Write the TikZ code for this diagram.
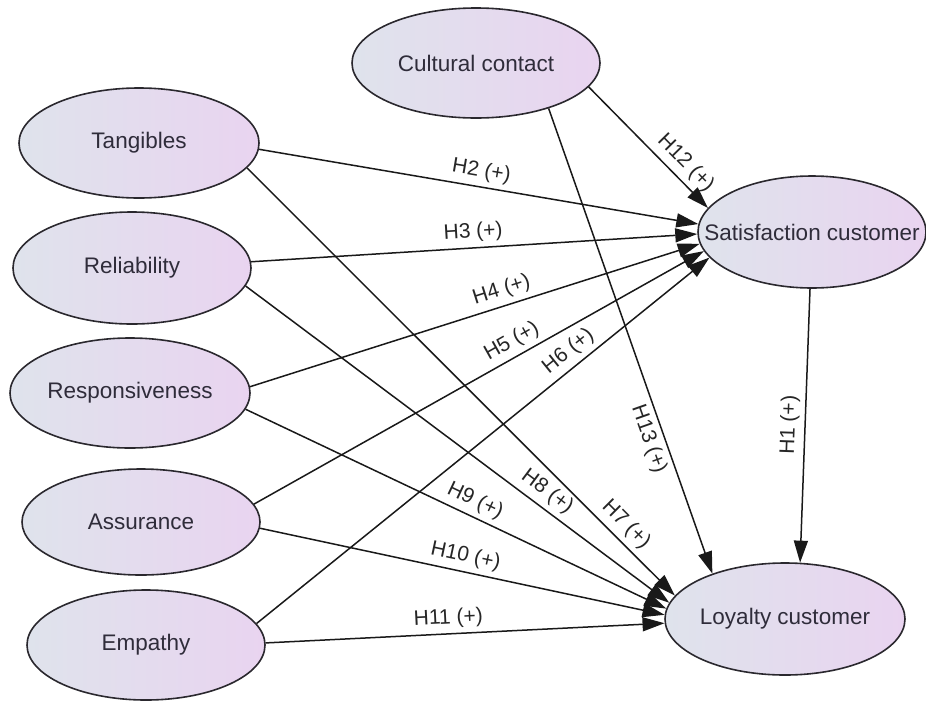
\documentclass[tikz,border=0pt]{standalone}
\usepackage{fontspec}
\setmainfont{Liberation Sans}
\usetikzlibrary{shapes.geometric,arrows.meta,positioning}

\definecolor{cstleft}{HTML}{DFE3EC}
\definecolor{cstright}{HTML}{E9D4F0}
\definecolor{cstline}{HTML}{2A282E}
\definecolor{csttext}{HTML}{2F2C3A}

\begin{document}
\begin{tikzpicture}[x=1pt, y=-1pt,
    construct/.style={ellipse, draw=cstline, line width=1.6pt, left color=cstleft, right color=cstright,
        inner sep=0pt, minimum width=240pt, minimum height=110pt},
    caption/.style={font=\fontsize{22.5}{26}\selectfont, text=csttext},
    effect/.style={-{Triangle[length=22pt,width=14pt]}, line width=1.5pt, draw=black!90},
    hyp/.style={sloped, font=\fontsize{21}{25}\selectfont, text=black!85, inner sep=5pt}]
    \useasboundingbox (0,0) rectangle (926,702);

    % constructs
    \node (cult) [construct, minimum width=248pt, label={[caption]center:Cultural contact}] at (476,63) {};
    \node (tang) [construct, label={[caption]center:Tangibles}] at (139,143) {};
    \node (reli) [construct, minimum width=238pt, minimum height=112pt, label={[caption]center:Reliability}] at (132,268) {};
    \node (resp) [construct, label={[caption]center:Responsiveness}] at (130,393) {};
    \node (assu) [construct, minimum width=238pt, minimum height=106pt, label={[caption]center:Assurance}] at (141,522) {};
    \node (empa) [construct, minimum width=238pt, label={[caption]center:Empathy}] at (146,645) {};
    \node (sat) [construct, minimum width=228pt, minimum height=112pt, label={[caption]center:Satisfaction customer}] at (812,232) {};
    \node (loy) [construct, minimum height=112pt, label={[caption]center:Loyalty customer}] at (785,619) {};

    % hypotheses
    \draw [effect] (tang.-3) -- node[hyp, above, pos=0.5] {H2 (+)} (sat.176);
    \draw [effect] (reli.3) -- node[hyp, above, pos=0.5] {H3 (+)} (sat.181);
    \draw [effect] (resp.3) -- node[hyp, above, pos=0.57] {H4 (+)} (sat.186);
    \draw [effect] (assu.9) -- node[hyp, above, pos=0.59] {H5 (+)} (sat.190);
    \draw [effect] (empa.11) -- node[hyp, above, pos=0.71] {H6 (+)} (sat.194);
    \draw [effect] (tang.-13) -- node[hyp, above, pos=0.86] {H7 (+)} (loy.168);
    \draw [effect] (reli.-9) -- node[hyp, above, pos=0.69] {H8 (+)} (loy.172);
    \draw [effect] (resp.-8) -- node[hyp, above, pos=0.53] {H9 (+)} (loy.175);
    \draw [effect] (assu.-3) -- node[hyp, above, pos=0.5] {H10 (+)} (loy.178);
    \draw [effect] (empa.1) -- node[hyp, above, pos=0.46] {H11 (+)} (loy.182);
    \draw [effect] (cult.-12) -- node[hyp, above, pos=0.72] {H12 (+)} (sat.167);
    \draw [effect] (cult.-32) -- node[hyp, below, pos=0.70] {H13 (+)} (loy.148);
    \draw [effect] (sat.268) -- node[hyp, above, pos=0.5] {H1 (+)} (loy.75);
\end{tikzpicture}
\end{document}
